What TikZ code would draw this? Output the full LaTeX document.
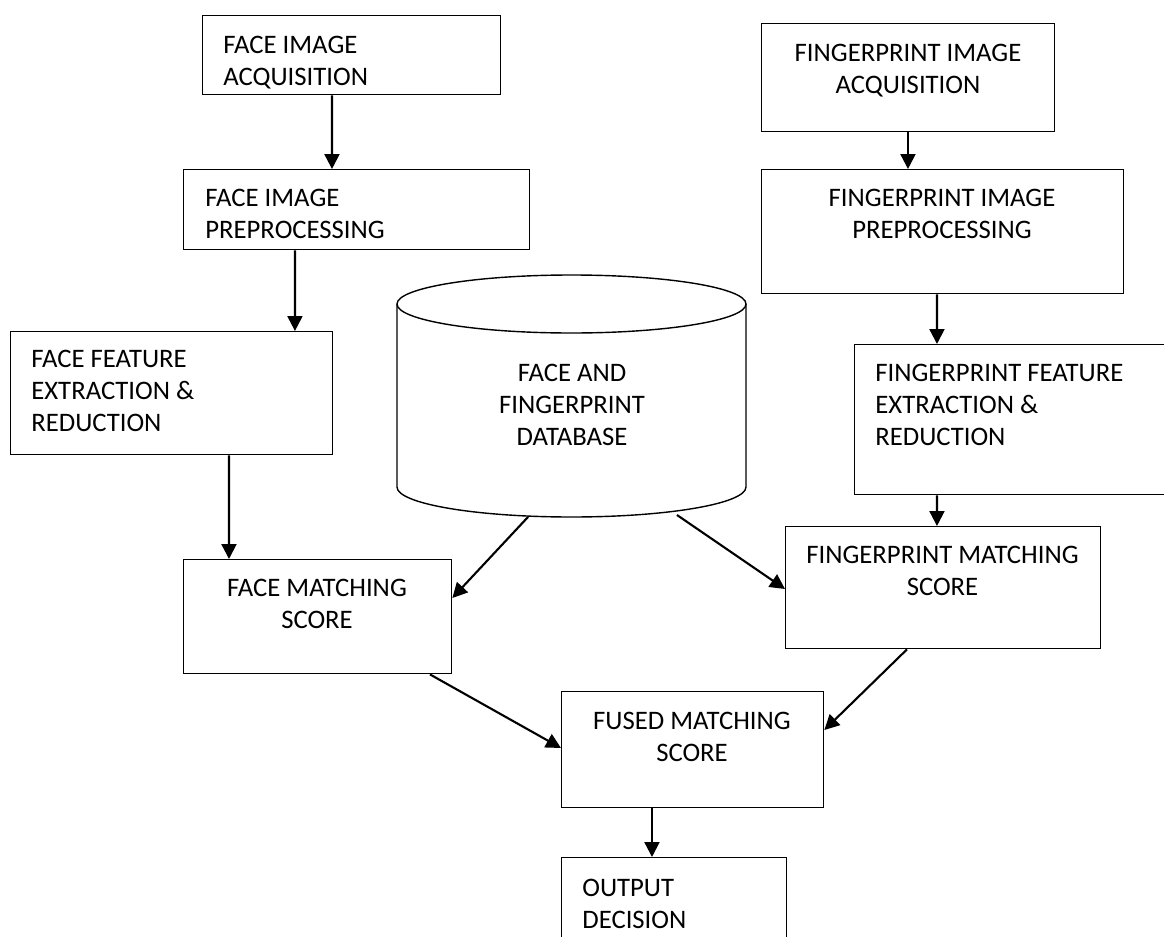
\documentclass[tikz,border=0pt]{standalone}
\usepackage{fontspec}
\setmainfont{Carlito}
\usetikzlibrary{arrows.meta}

\begin{document}
\begin{tikzpicture}[x=0.02cm, y=0.02cm,
    box/.style={draw, line width=0.8pt, anchor=north west, inner sep=0pt},
    txt/.style={font=\fontsize{15.2}{18.2}\selectfont, inner sep=0pt},
    arr/.style={line width=1.2pt, -{Triangle[length=8.5pt, width=8.5pt]}}]

    % --- Page frame ---
    \useasboundingbox (0,0) rectangle (1164,-937);
    \clip (0,0) rectangle (1164,-937);

    % --- Face branch ---
    \node[box, minimum width=5.96cm, minimum height=1.58cm] (faceacq)   at (202,-15)  {};
    \node[box, minimum width=6.92cm, minimum height=1.60cm] (facepre)   at (183,-169) {};
    \node[box, minimum width=6.44cm, minimum height=2.46cm] (facefeat)  at (10,-331)  {};
    \node[box, minimum width=5.36cm, minimum height=2.28cm] (facematch) at (183,-559) {};

    % --- Fingerprint branch ---
    \node[box, minimum width=5.86cm, minimum height=2.16cm] (fpacq)   at (761,-23)  {};
    \node[box, minimum width=7.24cm, minimum height=2.48cm] (fppre)   at (761,-169) {};
    \node[box, minimum width=6.72cm, minimum height=3.00cm] (fpfeat)  at (854,-344) {}; % runs off the right edge
    \node[box, minimum width=6.30cm, minimum height=2.44cm] (fpmatch) at (785,-526) {};

    % --- Fusion and decision ---
    \node[box, minimum width=5.24cm, minimum height=2.32cm] (fused)  at (561,-691) {};
    \node[box, minimum width=4.50cm, minimum height=2.10cm] (output) at (561,-857) {}; % runs off the bottom

    % --- Database cylinder ---
    \draw[line width=0.8pt] (571.5,-304) ellipse [x radius=174.5, y radius=29];
    \draw[line width=0.8pt] (397,-304) -- (397,-487)
        arc[start angle=180, end angle=360, x radius=174.5, y radius=30] -- (746,-304);
    \coordinate (dbl) at (528,-517);
    \coordinate (dbr) at (677,-515);

    % --- Box texts ---
    \node[txt, anchor=north west, align=left] (faceacqtxt)  at (223,-36)  {FACE IMAGE\\ACQUISITION};
    \node[txt, anchor=north west, align=left] (facepretxt)  at (205,-189) {FACE IMAGE\\PREPROCESSING};
    \node[txt, anchor=north west, align=left] (facefeattxt) at (31,-350)  {FACE FEATURE\\EXTRACTION \&\\REDUCTION};
    \node[txt, anchor=north, align=center] (facematchtxt)   at (317,-579) {FACE MATCHING\\SCORE};

    \node[txt, anchor=north, align=center] (fpacqtxt)     at (908,-44)    {FINGERPRINT IMAGE\\ACQUISITION};
    \node[txt, anchor=north, align=center] (fppretxt)     at (942,-189)   {FINGERPRINT IMAGE\\PREPROCESSING};
    \node[txt, anchor=north west, align=left] (fpfeattxt) at (875,-364)   {FINGERPRINT FEATURE\\EXTRACTION \&\\REDUCTION};
    \node[txt, anchor=north, align=center] (fpmatchtxt)   at (942.5,-546) {FINGERPRINT MATCHING\\SCORE};

    \node[txt, anchor=north, align=center] (fusedtxt)     at (692,-712) {FUSED MATCHING\\SCORE};
    \node[txt, anchor=north west, align=left] (outputtxt) at (582,-879) {OUTPUT\\DECISION};
    \node[txt, anchor=north, align=center] (dbtxt)        at (572,-364) {FACE AND\\FINGERPRINT\\DATABASE};

    % --- Arrows ---
    \draw[arr] ([xshift=2.60cm]faceacq.south west)  -- ([xshift=2.98cm]facepre.north west);
    \draw[arr] ([xshift=2.24cm]facepre.south west)  -- ([xshift=5.70cm]facefeat.north west);
    \draw[arr] ([xshift=4.38cm]facefeat.south west) -- ([xshift=0.92cm]facematch.north west);

    \draw[arr] ([xshift=2.94cm]fpacq.south west)  -- ([xshift=2.94cm]fppre.north west);
    \draw[arr] ([xshift=3.52cm]fppre.south west)  -- ([xshift=1.66cm]fpfeat.north west);
    \draw[arr] ([xshift=1.66cm]fpfeat.south west) -- ([xshift=3.04cm]fpmatch.north west);

    \draw[arr] (dbl) -- ([yshift=-0.78cm]facematch.north east);
    \draw[arr] (dbr) -- ([yshift=-1.26cm]fpmatch.north west);

    \draw[arr] ([xshift=4.94cm]facematch.south west) -- ([yshift=-1.14cm]fused.north west);
    \draw[arr] ([xshift=2.44cm]fpmatch.south west)   -- ([yshift=-0.78cm]fused.north east);
    \draw[arr] ([xshift=1.82cm]fused.south west)     -- ([xshift=1.82cm]output.north west);

\end{tikzpicture}
\end{document}
